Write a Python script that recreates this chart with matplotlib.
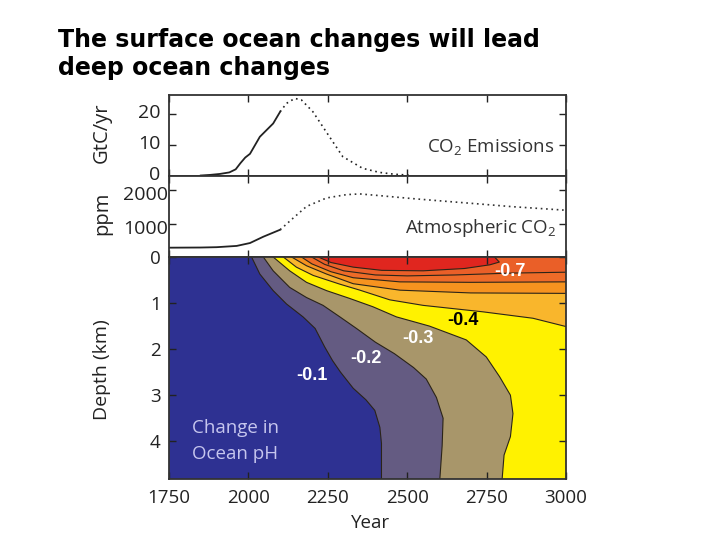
import numpy as np
import matplotlib.pyplot as plt
import matplotlib.transforms as mtransforms

plt.rcParams['font.family'] = ['Open Sans', 'DejaVu Sans']
plt.rcParams['mathtext.fontset'] = 'custom'
plt.rcParams['mathtext.rm'] = 'Open Sans'

# top panel: CO2 emissions (GtC/yr)
emis_year = [1850, 1880, 1910, 1940, 1960, 1975, 1990, 2005, 2036, 2078, 2100,
             2120, 2146, 2167, 2203, 2245, 2297, 2360, 2413, 2460, 2510]
emis_gtc = [0.0, 0.2, 0.5, 1.0, 2.0, 4.0, 5.8, 7.0, 12.5, 16.8, 20.6,
            23.3, 24.9, 24.4, 20.6, 14.1, 6.1, 2.3, 1.0, 0.4, 0.1]

# middle panel: atmospheric CO2 (ppm)
co2_year = [1750, 1850, 1900, 1963, 2005, 2047, 2100, 2141, 2183, 2246,
            2309, 2351, 2413, 2518, 2623, 2727, 2832, 2990, 3000]
co2_ppm = [280, 285, 295, 333, 420, 610, 820, 1170, 1520, 1775,
           1875, 1896, 1845, 1754, 1673, 1594, 1512, 1412, 1405]
split_year = 2100

# bottom panel: contour lines of pH change (year, depth km)
c01_year = [2010, 2036, 2078, 2120, 2172, 2210, 2240, 2265, 2290, 2330, 2370, 2398, 2414, 2419, 2419]
c01_depth = [0, 0.37, 0.73, 1.02, 1.3, 1.55, 1.95, 2.25, 2.5, 2.85, 3.1, 3.33, 3.7, 4.05, 4.9]
c02_year = [2047, 2078, 2130, 2183, 2235, 2288, 2340, 2400, 2460, 2520, 2560, 2592, 2613, 2610, 2602]
c02_depth = [0, 0.3, 0.66, 0.88, 1.05, 1.3, 1.55, 1.85, 2.1, 2.4, 2.65, 3.05, 3.5, 4.1, 4.9]
c03_year = [2078, 2130, 2183, 2246, 2319, 2392, 2466, 2570, 2686, 2749, 2791, 2825, 2833, 2825, 2805, 2798]
c03_depth = [0, 0.3, 0.55, 0.73, 0.9, 1.08, 1.3, 1.5, 1.8, 2.17, 2.6, 3.0, 3.4, 3.9, 4.3, 4.9]
c04_year = [2110, 2151, 2204, 2288, 2351, 2445, 2550, 2738, 2896, 3000]
c04_depth = [0, 0.22, 0.4, 0.59, 0.72, 0.93, 1.05, 1.19, 1.33, 1.51]
c05_year = [2136, 2183, 2246, 2330, 2477, 2700, 3000]
c05_depth = [0, 0.19, 0.37, 0.58, 0.72, 0.78, 0.79]
c06_year = [2167, 2200, 2260, 2330, 2477, 2700, 3000]
c06_depth = [0, 0.15, 0.32, 0.45, 0.54, 0.55, 0.54]
c07_year = [2199, 2240, 2300, 2400, 2500, 2650, 2822, 3000]
c07_depth = [0, 0.16, 0.3, 0.39, 0.41, 0.39, 0.35, 0.33]
c08_year = [2220, 2260, 2330, 2420, 2550, 2680, 2760, 2790, 2775]
c08_depth = [0, 0.12, 0.22, 0.29, 0.3, 0.25, 0.17, 0.11, 0]

levels = [-0.1, -0.2, -0.3, -0.4, -0.5, -0.6, -0.7, -0.8]
lines = [(c01_year, c01_depth), (c02_year, c02_depth), (c03_year, c03_depth),
         (c04_year, c04_depth), (c05_year, c05_depth), (c06_year, c06_depth),
         (c07_year, c07_depth), (c08_year, c08_depth)]
band_colors = ['#645b82', '#a8966a', '#fff200', '#f9b62c', '#f6931f',
               '#ee6b28', '#ea5f28', '#e0261f']

label_text = ['-0.1', '-0.2', '-0.3', '-0.4', '-0.7']
label_year = [2199, 2370, 2534, 2676, 2822]
label_depth = [2.57, 2.2, 1.77, 1.37, 0.32]
label_color = ['white', 'white', 'white', 'black', 'white']

year_ticks = [1750, 2000, 2250, 2500, 2750, 3000]
depth_max = 4.82

fig = plt.figure(figsize=(7.2, 5.4), dpi=100)
left, width = 169 / 720, 397 / 720
ax1 = fig.add_axes([left, 1 - 175.5 / 540, width, 80.5 / 540])
ax2 = fig.add_axes([left, 1 - 257 / 540, width, 81.5 / 540])
ax3 = fig.add_axes([left, 1 - 479 / 540, width, 222 / 540])

for ax in (ax1, ax2, ax3):
    ax.set_xlim(1750, 3000)
    ax.set_xticks(year_ticks)
    ax.tick_params(direction='in', top=True, right=True, length=5, width=1,
                   colors='#222222')
    for s in ax.spines.values():
        s.set_color('#333333')
        s.set_linewidth(1.3)

# emissions
em_y = np.array(emis_year)
em_v = np.array(emis_gtc)
hist = em_y <= split_year
fut = em_y >= split_year
ax1.plot(em_y[hist], em_v[hist], color='#222222', lw=1.3)
ax1.plot(em_y[fut], em_v[fut], color='#222222', lw=1.2, ls=(0, (1, 2.2)))
ax1.set_ylim(0, 26)
ax1.set_yticks([0, 10, 20])
ax1.tick_params(axis='y', labelsize=14, pad=6)
ax1.tick_params(axis='x', labelbottom=False)
ax1.text(0.97, 0.34, 'CO$_2$ Emissions', transform=ax1.transAxes, ha='right',
         va='center', fontsize=13.5, color='#333333')

# atmospheric co2
cy = np.array(co2_year)
cp = np.array(co2_ppm)
ax2.plot(cy[cy <= split_year], cp[cy <= split_year], color='#222222', lw=1.3)
ax2.plot(cy[cy >= split_year], cp[cy >= split_year], color='#333333', lw=1.2,
         ls=(0, (1, 2.2)))
ax2.set_ylim(0, 2450)
ax2.set_yticks([1000, 2000])
ax2.tick_params(axis='y', labelsize=14, pad=1)
ax2.tick_params(axis='x', labelbottom=False)
ax2.text(0.975, 0.35, 'Atmospheric CO$_2$', transform=ax2.transAxes, ha='right',
         va='center', fontsize=13.5, color='#333333')

# nudge tick labels apart where the panels meet
up = mtransforms.ScaledTranslation(0, 1.5 / 72, fig.dpi_scale_trans)
down = mtransforms.ScaledTranslation(0, -2 / 72, fig.dpi_scale_trans)
for lab in ax1.get_yticklabels():
    lab.set_transform(lab.get_transform() + up)
for lab in ax2.get_yticklabels():
    lab.set_transform(lab.get_transform() + down)

# pH change contours
ax3.set_facecolor('#2e3192')
for (yrs, dep), col in zip(lines, band_colors):
    xs = list(yrs) + [3000, 3000]
    ys = list(dep) + [dep[-1], 0]
    ax3.fill(xs, ys, color=col, lw=0)
for yrs, dep in lines:
    ax3.plot(yrs, dep, color='#2b2418', lw=0.8)
for t, x, y, c in zip(label_text, label_year, label_depth, label_color):
    ax3.text(x, y, t, color=c, fontsize=13, fontweight='bold',
             family='Liberation Sans', ha='center', va='center')
ax3.set_ylim(depth_max, 0)
ax3.set_yticks([0, 1, 2, 3, 4])
ax3.tick_params(axis='y', labelsize=13.5, pad=6)
ax3.tick_params(axis='x', labelsize=13.5, pad=7)
ax3.text(0.058, 0.205, 'Change in', transform=ax3.transAxes, fontsize=13.5,
         color='#c6c6ee', va='baseline')
ax3.text(0.058, 0.09, 'Ocean pH', transform=ax3.transAxes, fontsize=13.5,
         color='#c6c6ee', va='baseline')

fig.text(371 / 720, 1 - 523 / 540, 'Year', ha='center', va='center', fontsize=13.5, color='#222222')
fig.text(102 / 720, 1 - 133 / 540, 'GtC/yr', ha='center', va='center', rotation=90, fontsize=14.5, color='#222222')
fig.text(102 / 720, 1 - 213 / 540, 'ppm', ha='center', va='center', rotation=90, fontsize=14.5, color='#222222')
fig.text(102 / 720, 1 - 370 / 540, 'Depth (km)', ha='center', va='center', rotation=90, fontsize=14, color='#222222')

fig.text(58 / 720, 1 - 47 / 540, 'The surface ocean changes will lead', family='DejaVu Sans',
         fontweight='bold', fontsize=17, va='baseline')
fig.text(58 / 720, 1 - 75 / 540, 'deep ocean changes', family='DejaVu Sans',
         fontweight='bold', fontsize=17, va='baseline')

fig.savefig('out.png', dpi=100)
